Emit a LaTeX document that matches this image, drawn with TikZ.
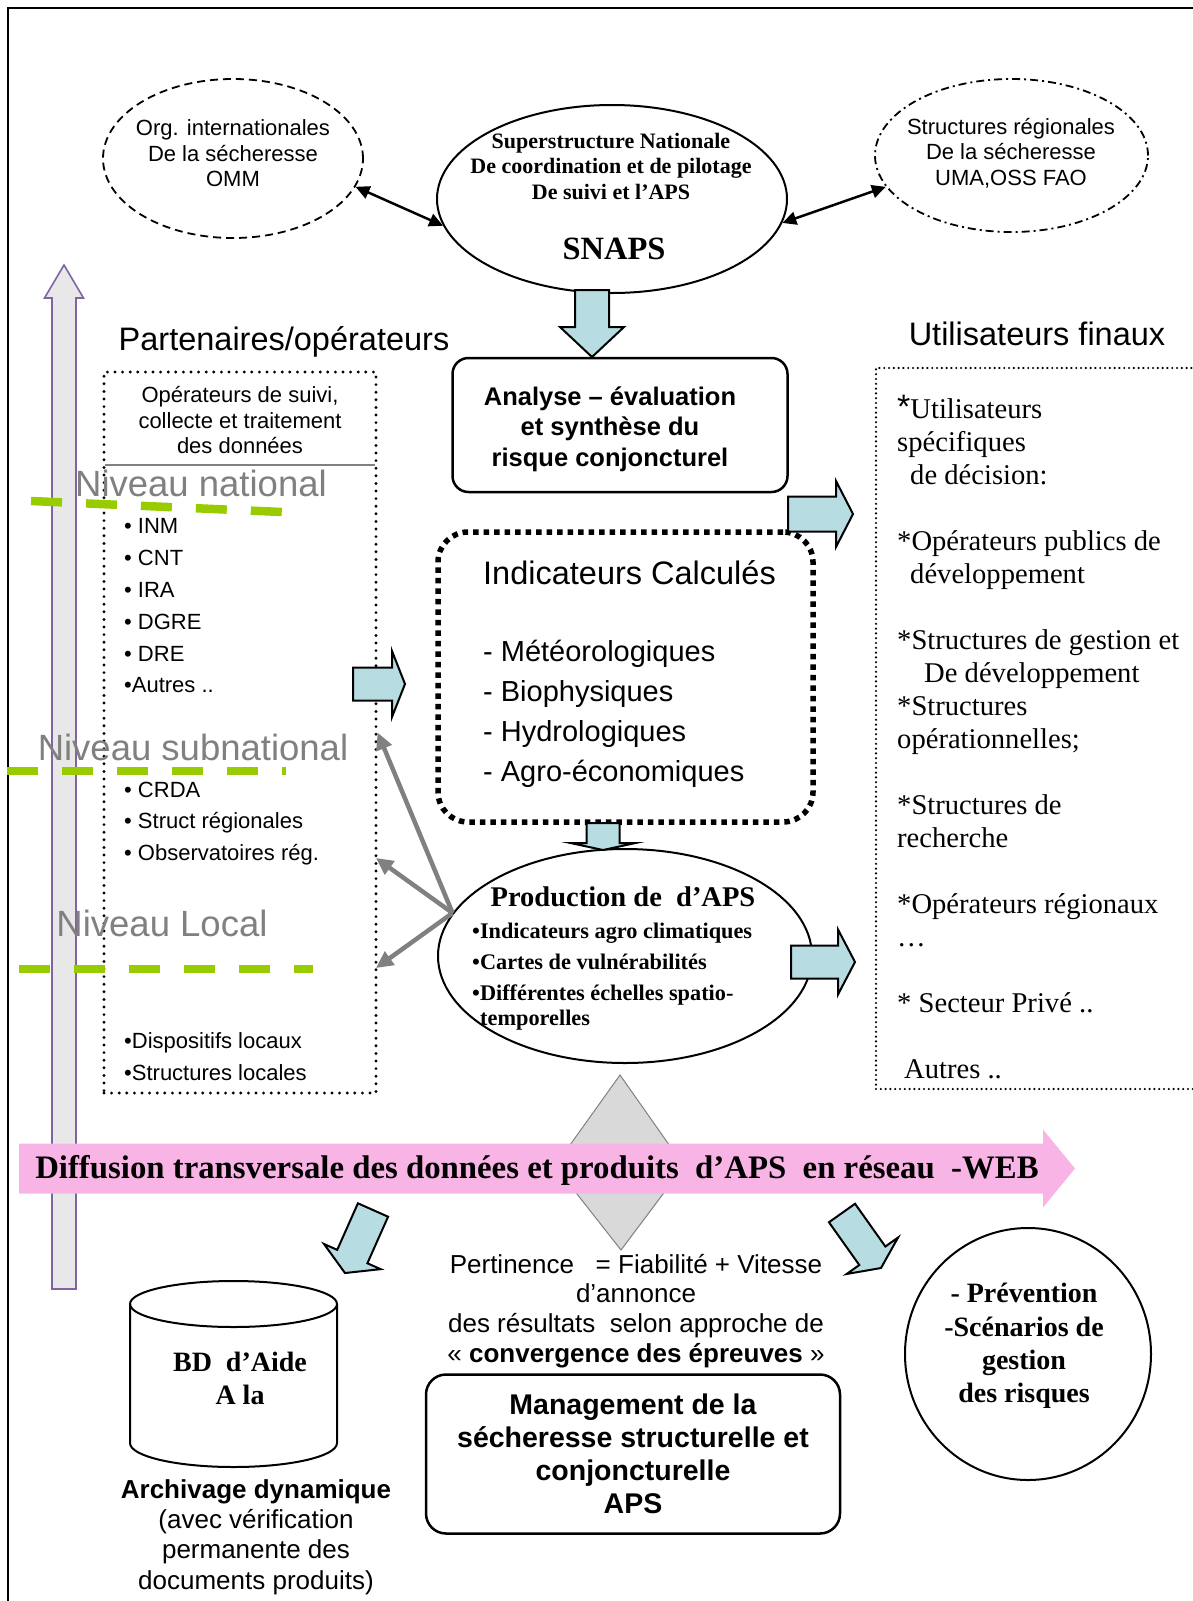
\documentclass[tikz,border=0pt]{standalone}
\usepackage{fontspec}
\setmainfont{Liberation Serif}
\setsansfont{Liberation Sans}
\usepackage{tikz}
\usetikzlibrary{calc, arrows.meta, shapes.geometric}

\definecolor{bleuclair}{RGB}{183,221,226}
\definecolor{rose}{RGB}{249,180,230}
\definecolor{lilas}{RGB}{128,100,162}
\definecolor{vert}{RGB}{153,204,0}
\definecolor{grisclair}{RGB}{232,232,232}
\definecolor{grismoyen}{RGB}{128,128,128}
\definecolor{losange}{RGB}{217,217,217}

\newcommand{\fsz}[2]{\fontsize{#1}{#2}\selectfont}
% flat block arrow: style, start, tip, half shaft, half head, head length
\newcommand{\blockarrow}[6]{%
  \coordinate (ba-h) at ($(#3)!#6!(#2)$);
  \filldraw[#1] ($(#2)!#4!90:(#3)$) -- ($(ba-h)!#4!90:(#3)$)
    -- ($(ba-h)!#5!90:(#3)$) -- (#3) -- ($(ba-h)!#5!-90:(#3)$)
    -- ($(ba-h)!#4!-90:(#3)$) -- ($(#2)!#4!-90:(#3)$) -- cycle;}

\tikzset{
  txt/.style={inner sep=0pt, align=center},
  sanstxt/.style={txt, font=\sffamily\fsz{22}{25.5}},
  titre/.style={txt, font=\sffamily\fsz{32.5}{36}},
  niveau/.style={txt, text=grismoyen, font=\sffamily\fsz{36.5}{40}},
  liste/.style={inner sep=0pt, align=left, anchor=west, font=\sffamily\fsz{22}{31.8}},
  vertdash/.style={vert, line width=8.5pt, dash pattern=on 31pt off 24pt},
  dblfleche/.style={line width=2.5pt, {Triangle[length=14pt,width=13pt]}-{Triangle[length=14pt,width=13pt]}},
  grisfleche/.style={grismoyen, line width=4.5pt, -{Triangle[length=17pt,width=16pt]}},
  fleche/.style={fill=bleuclair, draw=black, line width=2pt},
  bulle/.style={ellipse, draw, line width=2pt, inner sep=0pt},
  boite/.style={draw, line width=2.5pt, rounded corners=16pt, inner sep=0pt}
}

\begin{document}
\begin{tikzpicture}[x=1pt, y=-1pt]
\useasboundingbox (0,0) rectangle (1193,1601);
\clip (0,0) rectangle (1193,1601);

% cadre
\draw[line width=2pt] (8,1601) -- (8,8) -- (1193,8);

% fleche verticale
\coordinate (pu-s) at (64,1289);
\coordinate (pu-t) at (64,265);
\blockarrow{fill=grisclair, draw=lilas, line width=1.6pt}{pu-s}{pu-t}{12pt}{19.5pt}{33pt}

% haut
\node[bulle, line width=1.8pt, dash pattern=on 8pt off 5pt, minimum width=260pt, minimum height=159pt] (org) at (233,158.5) {};
\node[sanstxt] (orgtxt) at (233,153.5) {Org. internationales\\De la sécheresse\\OMM};
\node[bulle, minimum width=350pt, minimum height=188pt] (snaps) at (612,199) {};
\node[txt, font=\bfseries\fsz{22}{25.5}] (snapstxt) at (611,166) {Superstructure Nationale\\De coordination et de pilotage\\De suivi et l’APS};
\node[txt, font=\bfseries\fsz{32.5}{36}] (snapsnom) at (614,249) {SNAPS};
\node[bulle, line width=1.8pt, dash pattern=on 8pt off 4pt on 2pt off 4pt, minimum width=273pt, minimum height=153pt] (sreg) at (1011.5,155.5) {};
\node[sanstxt] (sregtxt) at (1011,153) {Structures régionales\\De la sécheresse\\UMA,OSS FAO};
\draw[dblfleche] (org.-13) -- (snaps.189);
\draw[dblfleche] (snaps.-8) -- (sreg.194);

\node[titre] (parttitre) at (284,342) {Partenaires/opérateurs};
\node[titre] (utiltitre) at (1037,334) {Utilisateurs finaux};

% partenaires
\node[draw, line width=3.2pt, dash pattern=on 0pt off 7.6pt, line cap=round, minimum width=272pt, minimum height=721pt, inner sep=0pt] (part) at (240,732.5) {};
\node[sanstxt] (parttxt) at (240,420.5) {Opérateurs de suivi,\\collecte et traitement\\des données};
\draw[grismoyen, line width=1.5pt] (105,465) -- (375,465);
\node[niveau] (nnat) at (201,483) {Niveau national};
\node[niveau] (nsub) at (193,747) {Niveau subnational};
\node[niveau] (nloc) at (162,923) {Niveau Local};
\draw[vertdash] (31,501) -- (282,512);
\draw[vertdash] (7,771) -- (286,771);
\draw[vertdash] (19,969) -- (313,969);
\node[liste] (lnat) at (124,606) {• INM\\• CNT\\• IRA\\• DGRE\\• DRE\\•Autres ..};
\node[liste] (lsub) at (124,823.5) {• CRDA\\• Struct régionales\\• Observatoires rég.};
\node[liste] (lloc) at (124,1056.5) {•Dispositifs locaux\\•Structures locales};

% centre
\node[boite, minimum width=335pt, minimum height=134pt] (anal) at (620,425) {};
\node[txt, font=\sffamily\bfseries\fsz{25.5}{30.5}] (analtxt) at (610,429) {Analyse – évaluation\\et synthèse du\\risque conjoncturel};
\node[draw, line width=5.5pt, dash pattern=on 5.5pt off 5pt, rounded corners=30pt, minimum width=375pt, minimum height=290pt, inner sep=0pt] (indic) at (625.5,677) {};
\node[txt, anchor=west, font=\sffamily\fsz{32.5}{36}] (indictitre) at (483,573) {Indicateurs Calculés};
\node[inner sep=0pt, align=left, anchor=west, font=\sffamily\fsz{29}{40}] (indicliste) at (483,714) {- Météorologiques\\- Biophysiques\\- Hydrologiques\\- Agro-économiques};
\node[bulle, minimum width=374pt, minimum height=214pt] (prod) at (625,956) {};
\node[txt, font=\bfseries\fsz{28.5}{32}] (prodtitre) at (623,897) {Production de\ \ d’APS};
\node[inner sep=0pt, align=left, anchor=west, font=\bfseries\fsz{22.3}{25}] (prodliste) at (472,977) {•Indicateurs agro climatiques\\[6pt]•Cartes de vulnérabilités\\[6pt]•Différentes échelles spatio-\\\hspace*{8pt}temporelles};

% utilisateurs
\node[draw, line width=2.4pt, dash pattern=on 0pt off 4.8pt, line cap=round, minimum width=354pt, minimum height=721pt, inner sep=0pt] (users) at (1053,728.5) {};
\node[inner sep=0pt, align=left, anchor=north west, font=\fsz{28.6}{33}] (userstxt) at (897,398) {\smash{\sffamily\fsz{34}{34}*}Utilisateurs\\spécifiques\\\hspace*{13pt}de décision:\\[33pt]*Opérateurs publics de\\\hspace*{13pt}développement\\[33pt]*Structures de gestion et\\\hspace*{27pt}De développement\\*Structures\\opérationnelles;\\[33pt]*Structures de\\recherche\\[33pt]*Opérateurs régionaux\\…\\[33pt]* Secteur Privé ..\\[33pt]\hspace*{7pt}Autres ..};

% fleches bleues
\coordinate (sn-a) at (592,290);
\coordinate (an-a) at (592,357);
\coordinate (an-b) at (788,514);
\coordinate (us-a) at (853,514);
\coordinate (pt-a) at (353,684);
\coordinate (in-a) at (405,684);
\coordinate (in-b) at (603,823);
\coordinate (pr-a) at (603,850);
\coordinate (pr-b) at (791,962);
\coordinate (us-b) at (855,962);
\blockarrow{fleche}{sn-a}{an-a}{17pt}{32pt}{30pt}
\blockarrow{fleche}{an-b}{us-a}{17.5pt}{33pt}{17pt}
\blockarrow{fleche}{pt-a}{in-a}{16.5pt}{33pt}{13pt}
\blockarrow{fleche}{in-b}{pr-a}{16.5pt}{32.5pt}{7pt}
\blockarrow{fleche}{pr-b}{us-b}{16.5pt}{32.5pt}{17pt}

% fleches grises
\coordinate (gr-b) at (376,858);
\coordinate (gr-c) at (376,968);
\draw[grisfleche] (prod.166) -- (part.east);
\draw[grisfleche] (prod.166) -- (gr-b);
\draw[grisfleche] (prod.166) -- (gr-c);

% diffusion
\filldraw[fill=losange, draw=grismoyen, line width=1pt] (620,1075) -- (684,1166) -- (621,1250) -- (555,1166) -- cycle;
\coordinate (df-s) at (19,1168.5);
\coordinate (df-t) at (1075,1168.5);
\blockarrow{fill=rose, draw=none}{df-s}{df-t}{25pt}{39pt}{32pt}
\node[txt, font=\bfseries\fsz{32.8}{36}] (diff) at (537,1170) {Diffusion transversale des données et produits\ \ d’APS\ \ en réseau\ \ -WEB};
\coordinate (df-a) at (373,1210);
\coordinate (bd-a) at (345,1273);
\coordinate (df-b) at (842,1213);
\coordinate (pv-a) at (881,1268);
\blockarrow{fleche}{df-a}{bd-a}{16.5pt}{31pt}{18pt}
\blockarrow{fleche}{df-b}{pv-a}{16pt}{31.5pt}{15pt}

% bas
\draw[line width=2pt] (130,1304) -- (130,1443) arc[start angle=180, end angle=0, x radius=103.5, y radius=24] -- (337,1304);
\draw[line width=2pt] (233.5,1304) ellipse [x radius=103.5, y radius=23];
\node[txt, font=\bfseries\fsz{28}{33}] (bd) at (240,1378.5) {BD\ \ d’Aide\\A la};
\node[txt, font=\sffamily\fsz{26}{30.3}] (archiv) at (256,1537) {\textbf{Archivage dynamique}\\(avec vérification\\permanente des\\documents produits)};
\node[txt, font=\sffamily\fsz{26}{29.7}] (pertin) at (636,1311) {Pertinence\ \ \ = Fiabilité + Vitesse\\d’annonce\\des résultats\ \ selon approche de\\« \textbf{convergence des épreuves} »};
\node[boite, rounded corners=20pt, minimum width=414pt, minimum height=159pt, font=\sffamily\bfseries\fsz{28.5}{33}, align=center] (mgmt) at (633,1454) {Management de la\\sécheresse structurelle et\\conjoncturelle\\APS};
\node[bulle, minimum width=246pt, minimum height=252pt] (prev) at (1028,1354) {};
\node[txt, font=\bfseries\fsz{28}{33.3}] (prevtxt) at (1024,1346) {- Prévention\\-Scénarios de\\gestion\\des risques};
\end{tikzpicture}
\end{document}
